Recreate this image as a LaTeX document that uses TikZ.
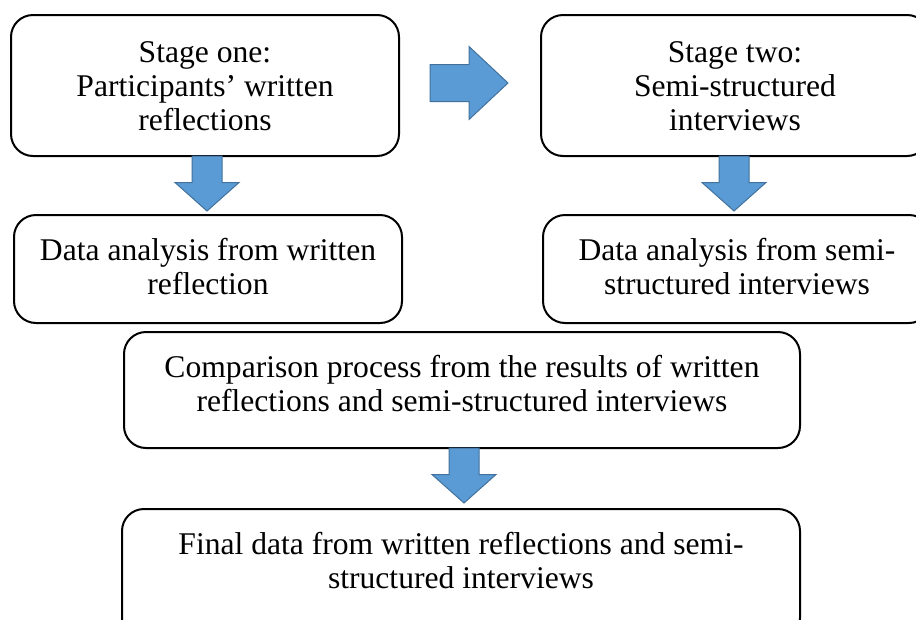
\documentclass[tikz,border=0pt]{standalone}
\usepackage{fontspec}
\setmainfont{Liberation Serif}
\usetikzlibrary{calc}
\definecolor{arrowfill}{HTML}{5B9BD5}
\definecolor{arrowline}{HTML}{41719C}
\begin{document}
\begin{tikzpicture}[x=1pt,y=-1pt,
  boxshape/.style={draw=black,line width=2pt,rounded corners=22pt,inner sep=0pt,outer sep=0pt,anchor=north west},
  boxtext/.style={anchor=north,align=center,inner sep=0pt,font=\fontsize{31.6}{34}\selectfont},
  blockarrow/.style={fill=arrowfill,draw=arrowline,line width=1pt,line join=miter},
  blockdown/.pic={\path[blockarrow] (-15,0) -- (15,0) -- (15,26.5) -- (32,26.5) -- (0,55) -- (-32,26.5) -- (-15,26.5) -- cycle;},
  blockright/.pic={\path[blockarrow] (0,-18.5) -- (39,-18.5) -- (39,-36.5) -- (78,0) -- (39,36.5) -- (39,18.5) -- (0,18.5) -- cycle;}
]
\useasboundingbox (0,0) rectangle (916,619);
\clip (0,0) rectangle (916,619);
\fill[white] (0,0) rectangle (916,619);

\node[boxshape,minimum width=388pt,minimum height=141pt] (b1) at (11,15) {};
\node[boxshape,minimum width=388pt,minimum height=141pt] (b2) at (541,15) {};
\node[boxshape,minimum width=388pt,minimum height=108pt] (b3) at (14,215) {};
\node[boxshape,minimum width=388pt,minimum height=108pt] (b4) at (543,215) {};
\node[boxshape,minimum width=676pt,minimum height=116pt] (b5) at (124,332) {};
\node[boxshape,minimum width=678pt,minimum height=131pt] (b6) at (122,509) {};

\node[boxtext] (t1) at ($(b1.north)+(0,26)$) {Stage one:\\Participants’ written\\reflections};
\node[boxtext] (t2) at ($(b2.north)+(0,26)$) {Stage two:\\Semi-structured\\interviews};
\node[boxtext] (t3) at ($(b3.north)+(0,23.5)$) {Data analysis from written\\reflection};
\node[boxtext] (t4) at ($(b4.north)+(0,23.5)$) {Data analysis from semi-\\structured interviews};
\node[boxtext] (t5) at ($(b5.north)+(0,23.5)$) {Comparison process from the results of written\\reflections and semi-structured interviews};
\node[boxtext] (t6) at ($(b6.north)+(0,23.5)$) {Final data from written reflections and semi-\\structured interviews};

\pic at ($(b1.south)+(2,0)$) {blockdown};
\pic at ($(b2.south)+(-1,0)$) {blockdown};
\pic at ($(b5.south)+(2,0)$) {blockdown};
\pic at ($(b1.east)+(31,-2.5)$) {blockright};
\end{tikzpicture}
\end{document}
